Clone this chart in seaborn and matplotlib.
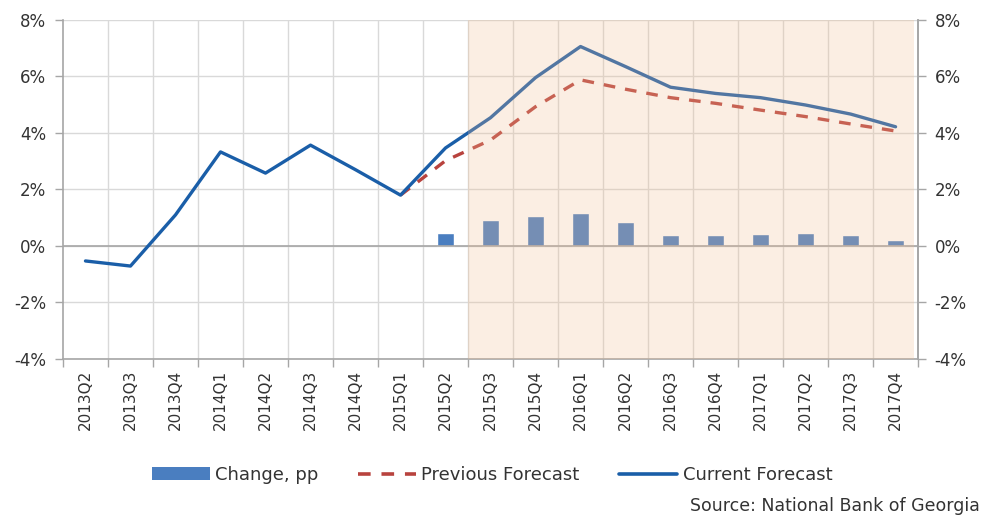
import matplotlib
matplotlib.use("Agg")
import matplotlib.pyplot as plt
from matplotlib.patches import Patch
from matplotlib.lines import Line2D
import numpy as np
import pandas as pd
import seaborn as sns

quarters = ["2013Q2", "2013Q3", "2013Q4", "2014Q1", "2014Q2", "2014Q3", "2014Q4",
            "2015Q1", "2015Q2", "2015Q3", "2015Q4", "2016Q1", "2016Q2", "2016Q3",
            "2016Q4", "2017Q1", "2017Q2", "2017Q3", "2017Q4"]
current_forecast = [-0.53, -0.71, 1.10, 3.33, 2.58, 3.57, 2.70, 1.80, 3.47, 4.54,
                    5.96, 7.06, 6.35, 5.62, 5.40, 5.25, 4.99, 4.67, 4.22]
previous_forecast = [None, None, None, None, None, None, None, 1.80, 3.02, 3.75,
                     4.93, 5.88, 5.55, 5.25, 5.05, 4.81, 4.58, 4.32, 4.07]
change_pp = [None, None, None, None, None, None, None, None, 0.47, 0.92,
             1.06, 1.16, 0.86, 0.40, 0.39, 0.42, 0.47, 0.39, 0.21]
y_ticks = [-4, -2, 0, 2, 4, 6, 8]

df = pd.DataFrame({
    "quarter": quarters,
    "pos": np.arange(len(quarters)),
    "current": current_forecast,
    "previous": pd.to_numeric(pd.Series(previous_forecast), errors="coerce"),
    "change": pd.to_numeric(pd.Series(change_pp), errors="coerce"),
})

sns.set_theme(style="white")
plt.rcParams["font.family"] = ["DejaVu Sans"]

BLUE_LINE = "#1A5EA8"
BLUE_BAR = "#4A7EC0"
RED = "#B8433E"
GRID = "#D9D9D9"
AXIS = "#A6A6A6"
TEXT = "#333333"

fig = plt.figure(figsize=(9.84, 5.19), dpi=100)
ax = fig.add_axes([0.064, 0.3083, 0.869, 0.6532])

n = len(quarters)
ax.set_xlim(-0.5, n - 0.5)
ax.set_ylim(-4, 8)

# grid: horizontal at each tick, vertical at category boundaries
for y in y_ticks:
    ax.axhline(y, color=GRID, lw=1, zorder=0)
for b in np.arange(0.5, n - 0.5, 1.0):
    ax.axvline(b, color=GRID, lw=1, zorder=0)

# change bars
bars = df.dropna(subset=["change"])
ax.bar(bars["pos"], bars["change"], width=0.38, color=BLUE_BAR, zorder=2)
ax.axhline(0, color=AXIS, lw=1.2, zorder=2.5)

# forecast lines
sns.lineplot(data=df.dropna(subset=["previous"]), x="pos", y="previous", ax=ax,
             color=RED, lw=2.4, dashes=False, zorder=3, legend=False)
ax.lines[-1].set_dashes([3.5, 3.0])
sns.lineplot(data=df, x="pos", y="current", ax=ax, color=BLUE_LINE, lw=2.4,
             zorder=4, legend=False)

# forecast horizon shading
ax.axvspan(8.5, n - 0.58, color="#F3BE93", alpha=0.26, lw=0, zorder=5)

ax.set_xlabel("")
ax.set_ylabel("")
ax.set_xticks(np.arange(-0.5, n, 1.0))
ax.set_xticklabels([])
ax.set_xticks(np.arange(n), minor=True)
ax.set_xticklabels(quarters, minor=True, rotation=90, fontsize=11, color=TEXT)
ax.tick_params(axis="x", which="major", direction="out", length=6, color=AXIS,
               width=1, bottom=True)
ax.tick_params(axis="x", which="minor", length=0, pad=8)
ax.set_yticks(y_ticks)
ax.set_yticklabels([f"{v}%" for v in y_ticks], fontsize=12, color=TEXT)
ax.tick_params(axis="y", direction="out", length=6, color=AXIS, width=1, left=True,
               pad=6)

ax.spines["top"].set_visible(False)
for side in ["left", "bottom", "right"]:
    ax.spines[side].set_color(AXIS)
    ax.spines[side].set_linewidth(1.2)

ax2 = ax.twinx()
ax2.set_ylim(-4, 8)
ax2.set_yticks(y_ticks)
ax2.set_yticklabels([f"{v}%" for v in y_ticks], fontsize=12, color=TEXT)
ax2.tick_params(axis="y", direction="out", length=6, color=AXIS, width=1, right=True,
                pad=6)
ax2.grid(False)
for side in ["top", "left", "bottom"]:
    ax2.spines[side].set_visible(False)
ax2.spines["right"].set_color(AXIS)
ax2.spines["right"].set_linewidth(1.2)

handles = [
    Patch(facecolor=BLUE_BAR, edgecolor="none"),
    Line2D([0], [0], color=RED, lw=2.6, dashes=[3.5, 3.0]),
    Line2D([0], [0], color=BLUE_LINE, lw=2.6),
]
fig.legend(handles, ["Change, pp", "Previous Forecast", "Current Forecast"],
           loc="center", bbox_to_anchor=(0.5, 0.085), ncol=3, frameon=False,
           fontsize=13, handlelength=3.2, handletextpad=0.3, columnspacing=2.2,
           labelcolor=TEXT)

fig.text(0.996, 0.025, "Source: National Bank of Georgia", ha="right", va="center",
         fontsize=12.5, color=TEXT)

fig.savefig("out.png", dpi=100)
